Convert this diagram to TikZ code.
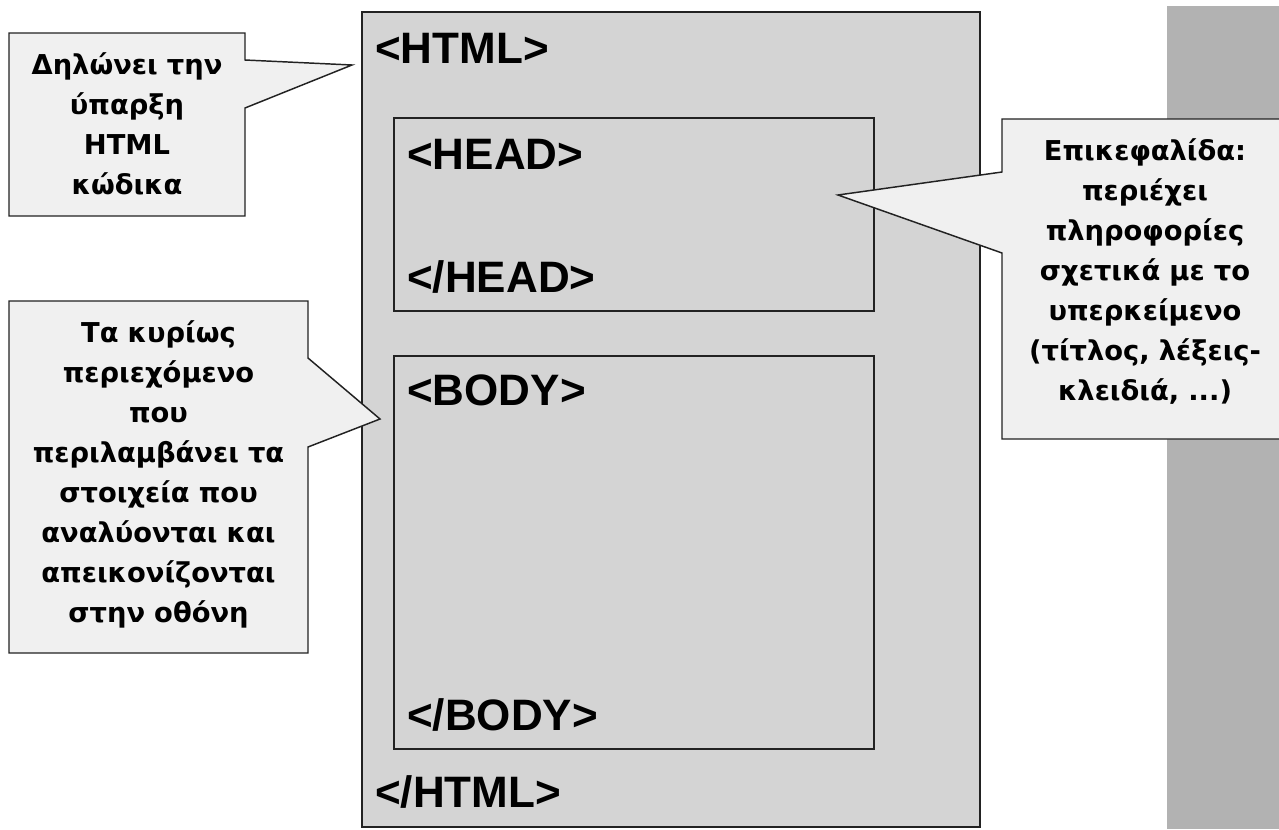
\documentclass[tikz,border=0pt]{standalone}
\usepackage{fontspec}
\setmainfont{Liberation Sans}
\newfontfamily\calloutfont{DejaVu Sans}
\definecolor{tagfill}{HTML}{D4D4D4}
\definecolor{calloutfill}{HTML}{F0F0F0}
\definecolor{stripgray}{HTML}{B2B2B2}
\definecolor{edge}{HTML}{222222}
\begin{document}
\begin{tikzpicture}[x=0.75pt,y=-0.75pt,
  boxline/.style={draw=edge, line width=1.1pt},
  tagbox/.style={boxline, fill=tagfill, anchor=north west, inner sep=0pt, outer sep=0pt},
  callout/.style={boxline, fill=calloutfill, line join=miter},
  tag/.style={font=\fontsize{33}{38}\selectfont\bfseries, anchor=base west, inner sep=0pt},
  ctext/.style={font=\calloutfont\bfseries\fontsize{20.5}{30}\selectfont, align=center, anchor=base, inner sep=0pt},
]
\useasboundingbox (0,0) rectangle (1279,829);
\clip (0,0) rectangle (1279,829);
\fill[white] (0,0) rectangle (1279,829);
\fill[stripgray] (1167,6) rectangle (1279,829);

% boxes
\node[tagbox, minimum width=463.5pt, minimum height=611.25pt] (html) at (362,12) {};
\node[tagbox, minimum width=360pt, minimum height=144.75pt] (head) at (394,118) {};
\node[tagbox, minimum width=360pt, minimum height=294.75pt] (body) at (394,356) {};

% tags
\node[tag] (thtml) at (375,63) {<HTML>};
\node[tag] (thead) at (407,169) {<HEAD>};
\node[tag] (tehead) at (407,292) {</HEAD>};
\node[tag] (tbody) at (407,405) {<BODY>};
\node[tag] (tebody) at (407,730) {</BODY>};
\node[tag] (tehtml) at (375,807) {</HTML>};

% callout pointer tips
\coordinate (tip1) at (352,65);
\coordinate (tip2) at (380,419);
\coordinate (tip3) at (838,195);

% callouts
\draw[callout] (9,33) -- (245,33) -- (245,60) -- (tip1) -- (245,108) -- (245,216) -- (9,216) -- cycle;
\draw[callout] (9,301) -- (308,301) -- (308,358) -- (tip2) -- (308,447) -- (308,653) -- (9,653) -- cycle;
\draw[callout] (1002,119) -- (1300,119) -- (1300,439) -- (1002,439) -- (1002,253) -- (tip3) -- (1002,172) -- cycle;

\node[ctext, text width=175pt] (c1) at (127,74) {Δηλώνει την\\ύπαρξη\\HTML\\κώδικα};
\node[ctext, text width=222pt] (c2) at (158.5,342) {Τα κυρίως\\περιεχόμενο\\που\\περιλαμβάνει τα\\στοιχεία που\\αναλύονται και\\απεικονίζονται\\στην οθόνη};
\node[ctext, text width=215pt] (c3) at (1145,160) {Επικεφαλίδα:\\περιέχει\\πληροφορίες\\σχετικά με το\\υπερκείμενο\\(τίτλος, λέξεις-\\κλειδιά, ...)};
\end{tikzpicture}
\end{document}
